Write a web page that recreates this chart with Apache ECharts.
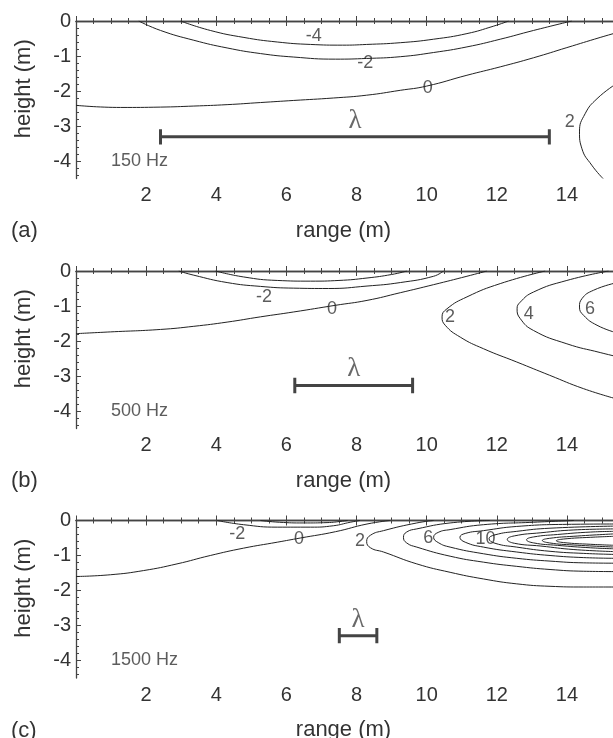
<!DOCTYPE html>
<html>
<head>
<meta charset="utf-8">
<script src="https://cdn.jsdelivr.net/npm/echarts@6/dist/echarts.min.js"></script>
<style>html,body{margin:0;padding:0;background:#fff}#c{width:613px;height:738px}</style>
</head>
<body>
<div id="c"></div>
<script>
// ---------- data ----------
var panelLetters = ['(a)', '(b)', '(c)'];
var freqLabels = ['150 Hz', '500 Hz', '1500 Hz'];
var yTickValues = [0, -1, -2, -3, -4];

// panel (a) 150 Hz contours [range, height]
var a_m4 = [[2.98,0],[3.83,-0.27],[4.79,-0.47],[5.74,-0.60],[6.69,-0.67],[7.6,-0.69],[8.29,-0.67],[9.25,-0.62],[10.2,-0.52],[11.15,-0.36],[11.9,-0.15],[12.34,0]];
var a_m2 = [[1.79,0],[2.41,-0.27],[3.36,-0.55],[4.31,-0.77],[5.26,-0.93],[6.21,-1.03],[7.4,-1.09],[8.29,-1.07],[9.25,-1.02],[10.2,-0.90],[11.15,-0.74],[12.1,-0.52],[13.05,-0.27],[14.14,0]];
var a_0 = [[0,-2.41],[1.27,-2.47],[2.41,-2.46],[3.36,-2.43],[4.31,-2.39],[5.26,-2.33],[6.21,-2.27],[7.34,-2.2],[8.29,-2.12],[9.25,-1.98],[10.0,-1.86],[11.15,-1.55],[12.1,-1.31],[13.05,-1.05],[14.0,-0.76],[14.95,-0.47],[15.4,-0.34]];
var a_2 = [[15.4,-1.8],[14.86,-2.22],[14.52,-2.65],[14.36,-3.17],[14.43,-3.65],[14.71,-4.12],[15.03,-4.5]];
var a_labels = [[6.78,-0.43,'-4'],[8.25,-1.2,'-2'],[10.03,-1.91,'0'],[14.08,-2.89,'2']];
var a_lambda = [2.41, 13.5, -3.31];

// panel (b) 500 Hz
var b_m4 = [[3.98,0],[4.78,-0.17],[5.74,-0.27],[6.69,-0.29],[7.5,-0.27],[8.3,-0.2],[9.0,-0.1],[9.44,0]];
var b_m2 = [[2.93,0],[3.36,-0.12],[4.31,-0.33],[5.26,-0.44],[6.21,-0.49],[7.2,-0.5],[8.3,-0.43],[9.25,-0.33],[10.2,-0.15],[10.48,0]];
var b_0 = [[0,-1.79],[0.98,-1.74],[2.41,-1.67],[3.36,-1.58],[4.31,-1.46],[5.26,-1.31],[6.21,-1.17],[7.4,-0.98],[8.3,-0.84],[9.25,-0.62],[10.2,-0.39],[11.15,-0.15],[11.72,0]];
var b_2 = [[13.38,0],[12.1,-0.36],[11.15,-0.74],[10.58,-1.08],[10.44,-1.31],[10.53,-1.55],[10.96,-1.89],[11.62,-2.22],[12.57,-2.6],[13.51,-2.98],[14.47,-3.36],[15.4,-3.65]];
var b_4 = [[15.19,0],[14.0,-0.27],[13.05,-0.6],[12.67,-0.89],[12.58,-1.08],[12.67,-1.36],[13.05,-1.7],[14.0,-2.08],[14.95,-2.33],[15.4,-2.44]];
var b_6 = [[15.4,-0.34],[14.76,-0.55],[14.43,-0.79],[14.36,-1.03],[14.48,-1.27],[14.86,-1.55],[15.4,-1.76]];
var b_labels = [[5.36,-0.74,'-2'],[7.3,-1.08,'0'],[10.67,-1.31,'2'],[12.91,-1.22,'4'],[14.66,-1.08,'6']];
var b_lambda = [6.24, 9.6, -3.27];

// panel (c) 1500 Hz
var c_m4 = [[5.26,0],[5.8,-0.05],[6.5,-0.07],[7.16,-0.06],[7.6,-0.02],[7.75,0]];
var c_m2 = [[4.02,0],[4.78,-0.12],[5.74,-0.19],[6.69,-0.19],[7.34,-0.15],[7.82,-0.05],[8.1,0]];
var c_0 = [[0,-1.6],[0.98,-1.55],[1.93,-1.43],[2.88,-1.24],[3.83,-1.0],[4.78,-0.79],[5.74,-0.62],[6.4,-0.5],[7.4,-0.32],[8.3,-0.1],[8.96,0]];
var c_2 = [[10.2,0],[9.72,-0.07],[8.77,-0.29],[8.4,-0.42],[8.29,-0.6],[8.4,-0.78],[8.77,-0.9],[9.72,-1.24],[10.67,-1.48],[11.62,-1.67],[12.57,-1.81],[13.52,-1.88],[14.48,-1.9],[15.4,-1.9]];
var c_4 = [[11.8,0],[10.67,-0.07],[9.72,-0.24],[9.43,-0.33],[9.34,-0.48],[9.43,-0.64],[9.72,-0.76],[10.67,-1.02],[11.62,-1.19],[12.57,-1.31],[13.52,-1.4],[14.48,-1.45],[15.4,-1.46]];
var c_6 = [[14.2,0],[13.05,-0.05],[11.62,-0.12],[10.67,-0.26],[10.33,-0.34],[10.2,-0.48],[10.33,-0.63],[10.67,-0.76],[11.62,-0.95],[12.57,-1.08],[13.52,-1.16],[14.48,-1.21],[15.4,-1.22]];
var c_8 = [[15.4,-0.1],[14.0,-0.11],[12.57,-0.17],[11.62,-0.29],[11.1,-0.37],[10.95,-0.48],[11.1,-0.62],[11.62,-0.76],[12.57,-0.9],[13.52,-1.0],[14.48,-1.06],[15.4,-1.08]];
var c_10 = [[15.4,-0.16],[13.52,-0.22],[12.57,-0.31],[11.95,-0.41],[11.78,-0.52],[11.95,-0.65],[12.57,-0.76],[13.52,-0.88],[14.48,-0.94],[15.4,-0.97]];
var c_12 = [[15.4,-0.24],[14.2,-0.27],[13.26,-0.35],[12.5,-0.44],[12.3,-0.54],[12.5,-0.65],[13.26,-0.73],[14.2,-0.83],[15.4,-0.89]];
var c_14 = [[15.4,-0.31],[14.68,-0.33],[13.73,-0.4],[13.05,-0.47],[12.85,-0.55],[13.05,-0.64],[13.73,-0.71],[14.68,-0.78],[15.4,-0.81]];
var c_16 = [[15.4,-0.38],[14.2,-0.45],[13.5,-0.51],[13.3,-0.57],[13.5,-0.64],[14.2,-0.7],[15.4,-0.76]];
var c_18 = [[15.4,-0.45],[14.68,-0.48],[13.9,-0.53],[13.7,-0.58],[13.9,-0.63],[14.68,-0.68],[15.4,-0.71]];
var c_labels = [[4.6,-0.38,'-2'],[6.36,-0.52,'0'],[8.1,-0.6,'2'],[10.05,-0.5,'6'],[11.68,-0.52,'10']];
var c_lambda = [7.51, 8.58, -3.29];

var panels = [
  {contours: [a_m4, a_m2, a_0, a_2], labels: a_labels, lambda: a_lambda},
  {contours: [b_m4, b_m2, b_0, b_2, b_4, b_6], labels: b_labels, lambda: b_lambda},
  {contours: [c_m4, c_m2, c_0, c_2, c_4, c_6, c_8, c_10, c_12, c_14, c_16, c_18], labels: c_labels, lambda: c_lambda}
];
var freqPos = [1.0, -4.0];

// ---------- chart ----------
var FONT = '"Liberation Sans", Arial, sans-serif';
var TXT = '#333';
var AX = '#444';
var gridTops = [21, 271, 520.5];
var grids = [], xAxes = [], yAxes = [], series = [], graphics = [];
var minorY = [];
for (var k = 1; k <= 22; k++) { var v = -k * 0.2; if (Math.abs(v - Math.round(v)) > 1e-6) minorY.push(+v.toFixed(2)); }

gridTops.forEach(function (top, i) {
  grids.push({left: 76, top: top, width: 561, height: 157.5, containLabel: false, outerBoundsMode: 'none'});
  xAxes.push({
    gridIndex: i, type: 'value', min: 0, max: 16, interval: 2, position: 'bottom',
    axisLine: {lineStyle: {color: AX, width: 1.3}},
    axisTick: {inside: true, length: 5, lineStyle: {color: AX, width: 1}},
    minorTick: {show: true, splitNumber: 4, length: 3, lineStyle: {color: AX, width: 1}},
    splitLine: {show: false},
    axisLabel: {showMinLabel: false, fontSize: 20, color: TXT, margin: 7, fontFamily: FONT},
    name: 'range (m)', nameLocation: 'middle', nameGap: 41,
    nameTextStyle: {fontSize: 22, color: TXT, fontFamily: FONT, padding: [0, 26, 0, 0]}
  });
  xAxes.push({
    gridIndex: i, type: 'value', min: 0, max: 16, interval: 2, position: 'top',
    axisLine: {lineStyle: {color: AX, width: 1.3}},
    axisTick: {inside: true, length: 5, lineStyle: {color: AX, width: 1}},
    minorTick: {show: true, splitNumber: 4, length: 3, lineStyle: {color: AX, width: 1}},
    splitLine: {show: false}, axisLabel: {show: false}
  });
  yAxes.push({
    gridIndex: i, type: 'value', min: -4.5, max: 0, position: 'left',
    axisLine: {show: true, lineStyle: {color: AX, width: 1.3}},
    axisTick: {show: true, inside: true, length: 5, customValues: yTickValues, lineStyle: {color: AX, width: 1}},
    splitLine: {show: false},
    axisLabel: {fontSize: 20, color: TXT, margin: 5, fontFamily: FONT, customValues: yTickValues},
    name: 'height (m)', nameLocation: 'middle', nameGap: 41,
    nameTextStyle: {fontSize: 22, color: TXT, fontFamily: FONT, padding: [0, 0, 0, 22]}
  });
  yAxes.push({
    gridIndex: i, type: 'value', min: -4.5, max: 0, position: 'left',
    axisLine: {show: false},
    axisTick: {show: true, inside: true, length: 3, customValues: minorY, lineStyle: {color: AX, width: 1}},
    splitLine: {show: false}, axisLabel: {show: false}
  });

  var p = panels[i];
  var xi = i * 2, yi = i * 2;
  p.contours.forEach(function (d) {
    series.push({type: 'line', xAxisIndex: xi, yAxisIndex: yi, data: d, smooth: 0.5, symbol: 'none',
      silent: true, clip: true, lineStyle: {color: '#222', width: 1}});
  });
  series.push({type: 'scatter', xAxisIndex: xi, yAxisIndex: yi, symbolSize: 0, silent: true,
    data: p.labels.map(function (l) { return {value: [l[0], l[1]], name: l[2]}; }),
    label: {show: true, position: 'inside', formatter: '{b}', fontSize: 18, color: TXT, fontFamily: FONT}});
  var L = p.lambda;
  series.push({type: 'line', xAxisIndex: xi, yAxisIndex: yi, data: [[L[0], L[2]], [L[1], L[2]]], symbol: 'none',
    silent: true, lineStyle: {color: AX, width: 3}});
  [L[0], L[1]].forEach(function (xx) {
    series.push({type: 'line', xAxisIndex: xi, yAxisIndex: yi, data: [[xx, L[2] + 0.22], [xx, L[2] - 0.22]],
      symbol: 'none', silent: true, lineStyle: {color: AX, width: 3}});
  });
  series.push({type: 'scatter', xAxisIndex: xi, yAxisIndex: yi, symbolSize: 0, silent: true,
    data: [{value: [(L[0] + L[1]) / 2, L[2] + 0.46], name: 'λ'}],
    label: {show: true, position: 'inside', formatter: '{b}', fontSize: 27, color: AX, fontFamily: '"Liberation Serif", "DejaVu Serif", serif'}});
  series.push({type: 'scatter', xAxisIndex: xi, yAxisIndex: yi, symbolSize: 0, silent: true,
    data: [{value: freqPos, name: freqLabels[i]}],
    label: {show: true, position: 'right', distance: 0, formatter: '{b}', fontSize: 18, color: TXT, fontFamily: FONT}});

  graphics.push({type: 'text', left: 11, top: top + 199, style: {text: panelLetters[i], fontSize: 22, fill: TXT, fontFamily: FONT}});
});

var chart = echarts.init(document.getElementById('c'), null, {renderer: 'canvas'});
chart.setOption({
  animation: false,
  backgroundColor: '#fff',
  grid: grids, xAxis: xAxes, yAxis: yAxes, series: series, graphic: graphics
});
</script>
</body>
</html>
